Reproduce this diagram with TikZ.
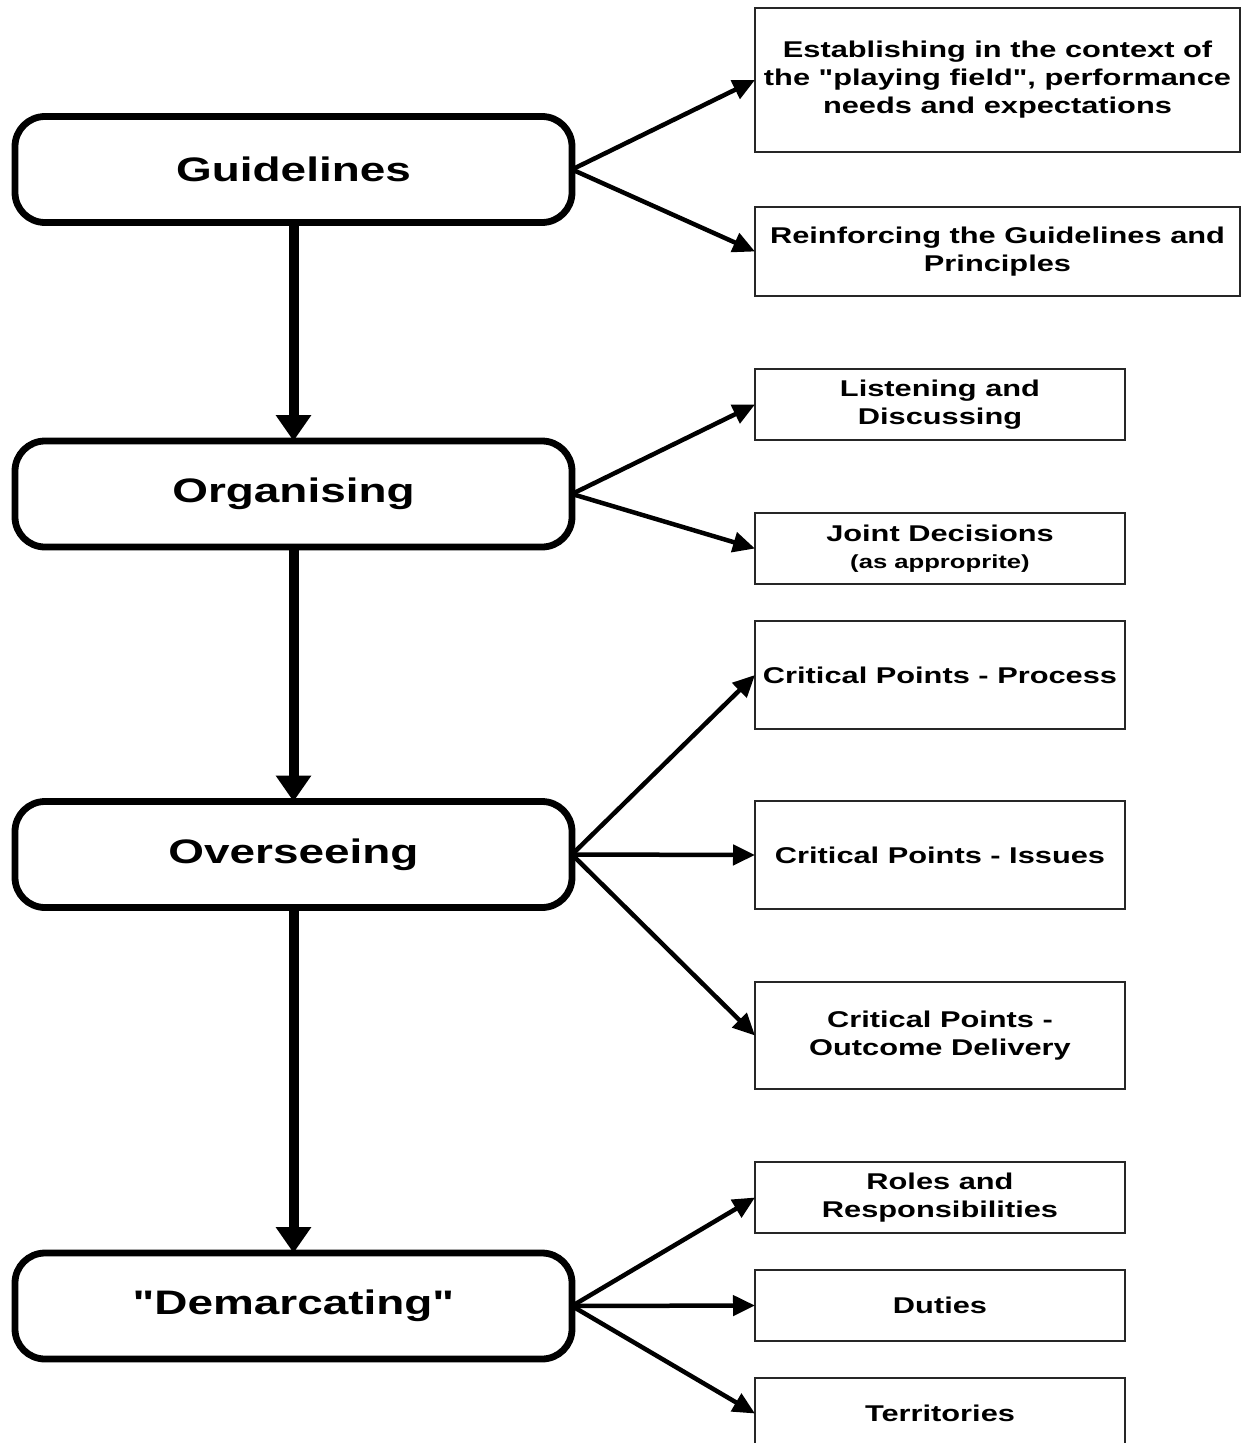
\documentclass[tikz,border=0pt]{standalone}
\usepackage{fontspec}
% wide-set Arial-metric sans, straight quotes kept
\setmainfont{Liberation Sans}[Ligatures=TeXOff, FakeStretch=1.35]
\usetikzlibrary{arrows.meta}
\begin{document}
\begin{tikzpicture}[x=1pt,y=-1pt,
  stage/.style={draw, line width=6.8pt, rounded corners=30pt,
    minimum width=557pt, minimum height=106pt, outer sep=0pt, inner sep=0pt,
    font=\fontsize{34}{40}\selectfont\bfseries},
  item/.style={draw=black!85, line width=1.2pt, outer sep=0pt, inner sep=0pt,
    align=center, minimum height=71pt,
    font=\fontsize{22.8}{28}\selectfont\bfseries},
  wide/.style={item, minimum width=485pt},
  narrow/.style={item, minimum width=370pt},
  flow/.style={line width=10pt, -{Triangle[length=26pt,width=34pt]}},
  branch/.style={line width=4.5pt, -{Triangle[length=22pt,width=20pt]}},
]
\useasboundingbox (0,0) rectangle (1249,1443);
\clip (0,0) rectangle (1249,1443);

% main stages
\node[stage] (guide) at (293.5,169.5) {Guidelines};
\node[stage] (organ) at (293.5,494) {Organising};
\node[stage] (overs) at (293.5,854.5) {Overseeing};
\node[stage] (demar) at (293.5,1306) {"Demarcating"};

% detail boxes
\node[wide, minimum height=144pt] (estab) at (997.5,80)
  {Establishing in the context of\\the "playing field", performance\\needs and expectations};
\node[wide, minimum height=89pt] (reinf) at (997.5,251.5)
  {Reinforcing the Guidelines and\\Principles};
\node[narrow] (listen) at (940,404.5) {Listening and\\Discussing};
\node[narrow] (joint) at (940,548.5)
  {Joint Decisions\\[-1pt]{\fontsize{19}{22}\selectfont (as approprite)}};
\node[narrow, minimum height=108pt] (cpproc) at (940,675) {Critical Points - Process};
\node[narrow, minimum height=108pt] (cpiss) at (940,855) {Critical Points - Issues};
\node[narrow, minimum height=107pt] (cpout) at (940,1035.5)
  {Critical Points -\\Outcome Delivery};
\node[narrow] (roles) at (940,1197.5) {Roles and\\Responsibilities};
\node[narrow] (duties) at (940,1305.5) {Duties};
\node[narrow] (terr) at (940,1413.5) {Territories};

% main flow
\draw[flow] (guide.south) -- (organ.north);
\draw[flow] (organ.south) -- (overs.north);
\draw[flow] (overs.south) -- (demar.north);

% branches
\draw[branch] (guide.east) -- (estab.west);
\draw[branch] (guide.east) -- (reinf.west);
\draw[branch] (organ.east) -- (listen.west);
\draw[branch] (organ.east) -- (joint.west);
\draw[branch] (overs.east) -- (cpproc.west);
\draw[branch] (overs.east) -- (cpiss.west);
\draw[branch] (overs.east) -- (cpout.west);
\draw[branch] (demar.east) -- (roles.west);
\draw[branch] (demar.east) -- (duties.west);
\draw[branch] (demar.east) -- (terr.west);
\end{tikzpicture}
\end{document}
